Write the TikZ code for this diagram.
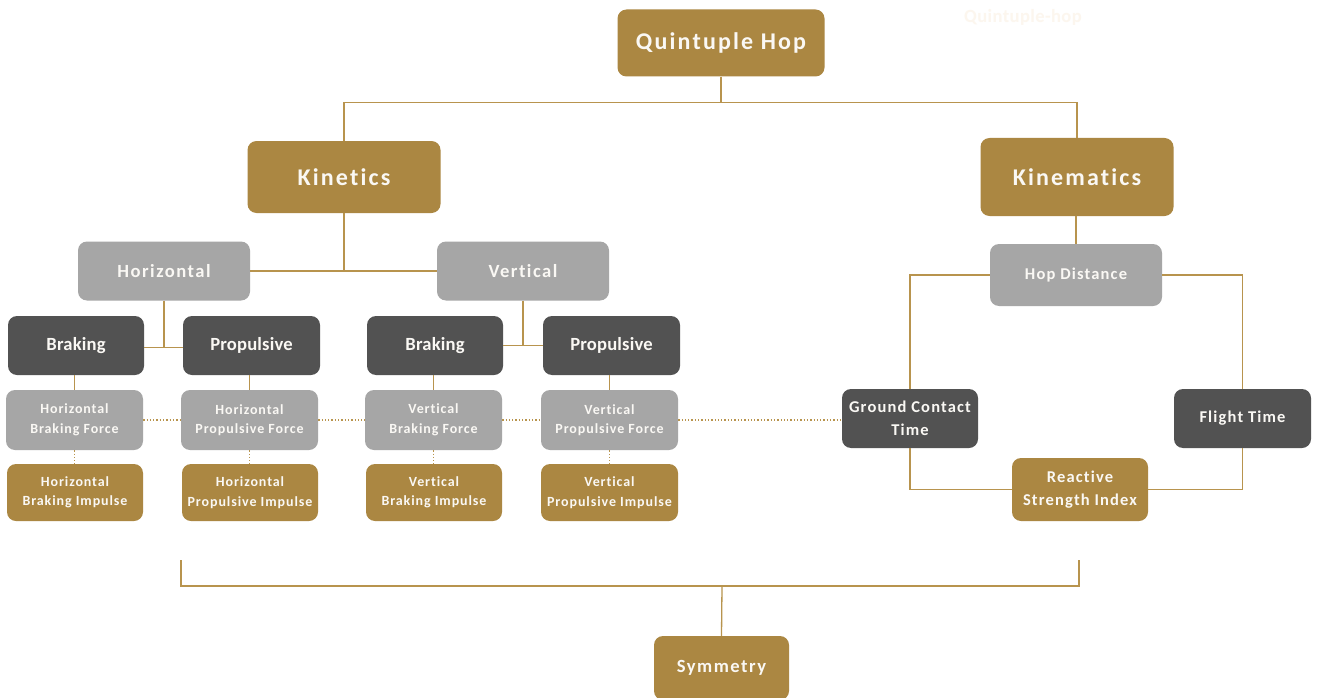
\documentclass[tikz,border=0pt]{standalone}
\usepackage{fontspec}
\setmainfont{Carlito}[Ligatures=NoCommon]
\definecolor{gold}{HTML}{AB8742}
\definecolor{goldline}{HTML}{B8944E}
\definecolor{lgray}{HTML}{A6A6A6}
\definecolor{dgray}{HTML}{525252}
\definecolor{faint}{HTML}{FCF6EE}
\definecolor{txt}{HTML}{FAF8F4}
\tikzset{
  box/.style={rounded corners=9pt, inner sep=0pt, align=center, text=txt},
  goldbox/.style={box, fill=gold},
  lbox/.style={box, fill=lgray},
  dbox/.style={box, fill=dgray},
  ln/.style={draw=goldline, line width=1.3pt},
  dl/.style={draw=goldline, line width=1.3pt, dotted},
  big/.style={font=\bfseries\fontsize{24}{28}\selectfont\addfontfeatures{LetterSpace=9}},
  hv/.style={font=\bfseries\fontsize{18.6}{22}\selectfont\addfontfeatures{LetterSpace=8}},
  dk/.style={font=\bfseries\fontsize{18.6}{22}\selectfont\addfontfeatures{LetterSpace=1}},
  sml/.style={font=\bfseries\fontsize{14}{19.5}\selectfont\addfontfeatures{LetterSpace=6.5}},
  med/.style={font=\bfseries\fontsize{16.5}{22.5}\selectfont\addfontfeatures{LetterSpace=7}},
}
\begin{document}
\begin{tikzpicture}[x=1pt,y=-1pt]
\useasboundingbox[fill=white] (0,0) rectangle (1319,698);
\node[text=faint, font=\bfseries\fontsize{18.6}{20}\selectfont\addfontfeatures{LetterSpace=2}] (fq) at (1023,17) {Quintuple-hop};
% top
\node[goldbox, big, minimum width=207pt, minimum height=67pt] (qh) at (721,43) {Quintuple Hop};
\node[goldbox, big, minimum width=193pt, minimum height=72pt] (kin) at (344,177) {Kinetics};
\node[goldbox, big, minimum width=193pt, minimum height=78pt] (kmt) at (1077,177) {Kinematics};
% second level
\node[lbox, hv, minimum width=172pt, minimum height=59pt] (hor) at (164,271) {Horizontal};
\node[lbox, hv, minimum width=172pt, minimum height=59pt] (ver) at (523,271) {Vertical};
\node[lbox, med, minimum width=172pt, minimum height=62pt] (hd) at (1076,275) {Hop Distance};
% third level
\node[dbox, dk, minimum width=136pt, minimum height=59pt] (hb) at (76,345.5) {Braking};
\node[dbox, dk, minimum width=137pt, minimum height=59pt] (hp) at (251.5,345.5) {Propulsive};
\node[dbox, dk, minimum width=136pt, minimum height=59pt] (vb) at (435,345.5) {Braking};
\node[dbox, dk, minimum width=137pt, minimum height=59pt] (vp) at (611.5,345.5) {Propulsive};
% forces
\node[lbox, sml, minimum width=137pt, minimum height=60pt] (hbf) at (74.5,420) {Horizontal\\Braking Force};
\node[lbox, sml, minimum width=137pt, minimum height=60pt] (hpf) at (249.5,420) {Horizontal\\Propulsive Force};
\node[lbox, sml, minimum width=137pt, minimum height=60pt] (vbf) at (433.5,420) {Vertical\\Braking Force};
\node[lbox, sml, minimum width=137pt, minimum height=60pt] (vpf) at (609.5,420) {Vertical\\Propulsive Force};
% impulses
\node[goldbox, sml, minimum width=136pt, minimum height=57pt] (hbi) at (75,492.5) {Horizontal\\Braking Impulse};
\node[goldbox, sml, minimum width=136pt, minimum height=57pt] (hpi) at (250,492.5) {Horizontal\\Propulsive Impulse};
\node[goldbox, sml, minimum width=136pt, minimum height=57pt] (vbi) at (434,492.5) {Vertical\\Braking Impulse};
\node[goldbox, sml, minimum width=137pt, minimum height=57pt] (vpi) at (609.5,492.5) {Vertical\\Propulsive Impulse};
% kinematics side
\node[dbox, med, minimum width=136pt, minimum height=59pt] (gct) at (910,418.5) {Ground Contact\\Time};
\node[dbox, med, minimum width=137pt, minimum height=59pt] (ft) at (1242.5,418.5) {Flight Time};
\node[goldbox, med, minimum width=136pt, minimum height=63pt] (rsi) at (1080,489.5) {Reactive\\Strength Index};
% symmetry
\node[goldbox, hv, minimum width=135pt, minimum height=64pt] (sym) at (721.5,668) {Symmetry};
% connectors
\draw[ln] (qh.south) -- ++(0,26) coordinate (j1);
\draw[ln] (kin.north) |- (j1) -| (kmt.north);
\draw[ln] (kin.south) -- (kin.south |- hor.east);
\draw[ln] (hor.east) -- (ver.west);
\draw[ln] (hor.south) -- ++(0,47) coordinate (j2);
\draw[ln] (hb.east |- j2) -- (hp.west |- j2);
\draw[ln] (ver.south) -- ++(0,45) coordinate (j3);
\draw[ln] (vb.east |- j3) -- (vp.west |- j3);
\draw[ln] (hbf.north) -- (hbf.north |- hb.south);
\draw[ln] (hpf.north) -- (hpf.north |- hp.south);
\draw[ln] (vbf.north) -- (vbf.north |- vb.south);
\draw[ln] (vpf.north) -- (vpf.north |- vp.south);
\draw[dl] (hbf.south) -- (hbi.north -| hbf.south);
\draw[dl] (hpf.south) -- (hpi.north -| hpf.south);
\draw[dl] (vbf.south) -- (vbi.north -| vbf.south);
\draw[dl] (vpf.south) -- (vpi.north -| vpf.south);
\draw[dl] (hbf.east) -- (hpf.west);
\draw[dl] (hpf.east) -- (vbf.west);
\draw[dl] (vbf.east) -- (vpf.west);
\draw[dl] (vpf.east) -- (vpf.east -| gct.west);
\draw[ln] (kmt.south) -- (kmt.south -| hd.north) -- (hd.north);
\draw[ln] (hd.west) -| (gct.north);
\draw[ln] (hd.east) -| (ft.north);
\draw[ln] (gct.south) |- (rsi.west);
\draw[ln] (ft.south) |- (rsi.east);
\coordinate (b1) at (181,560);
\coordinate (b2) at (1079,560);
\coordinate (bm) at (722,586);
\draw[ln] (b1) |- (bm) -| (b2);
\draw[ln] (bm) -- (sym.north);
\end{tikzpicture}
\end{document}
